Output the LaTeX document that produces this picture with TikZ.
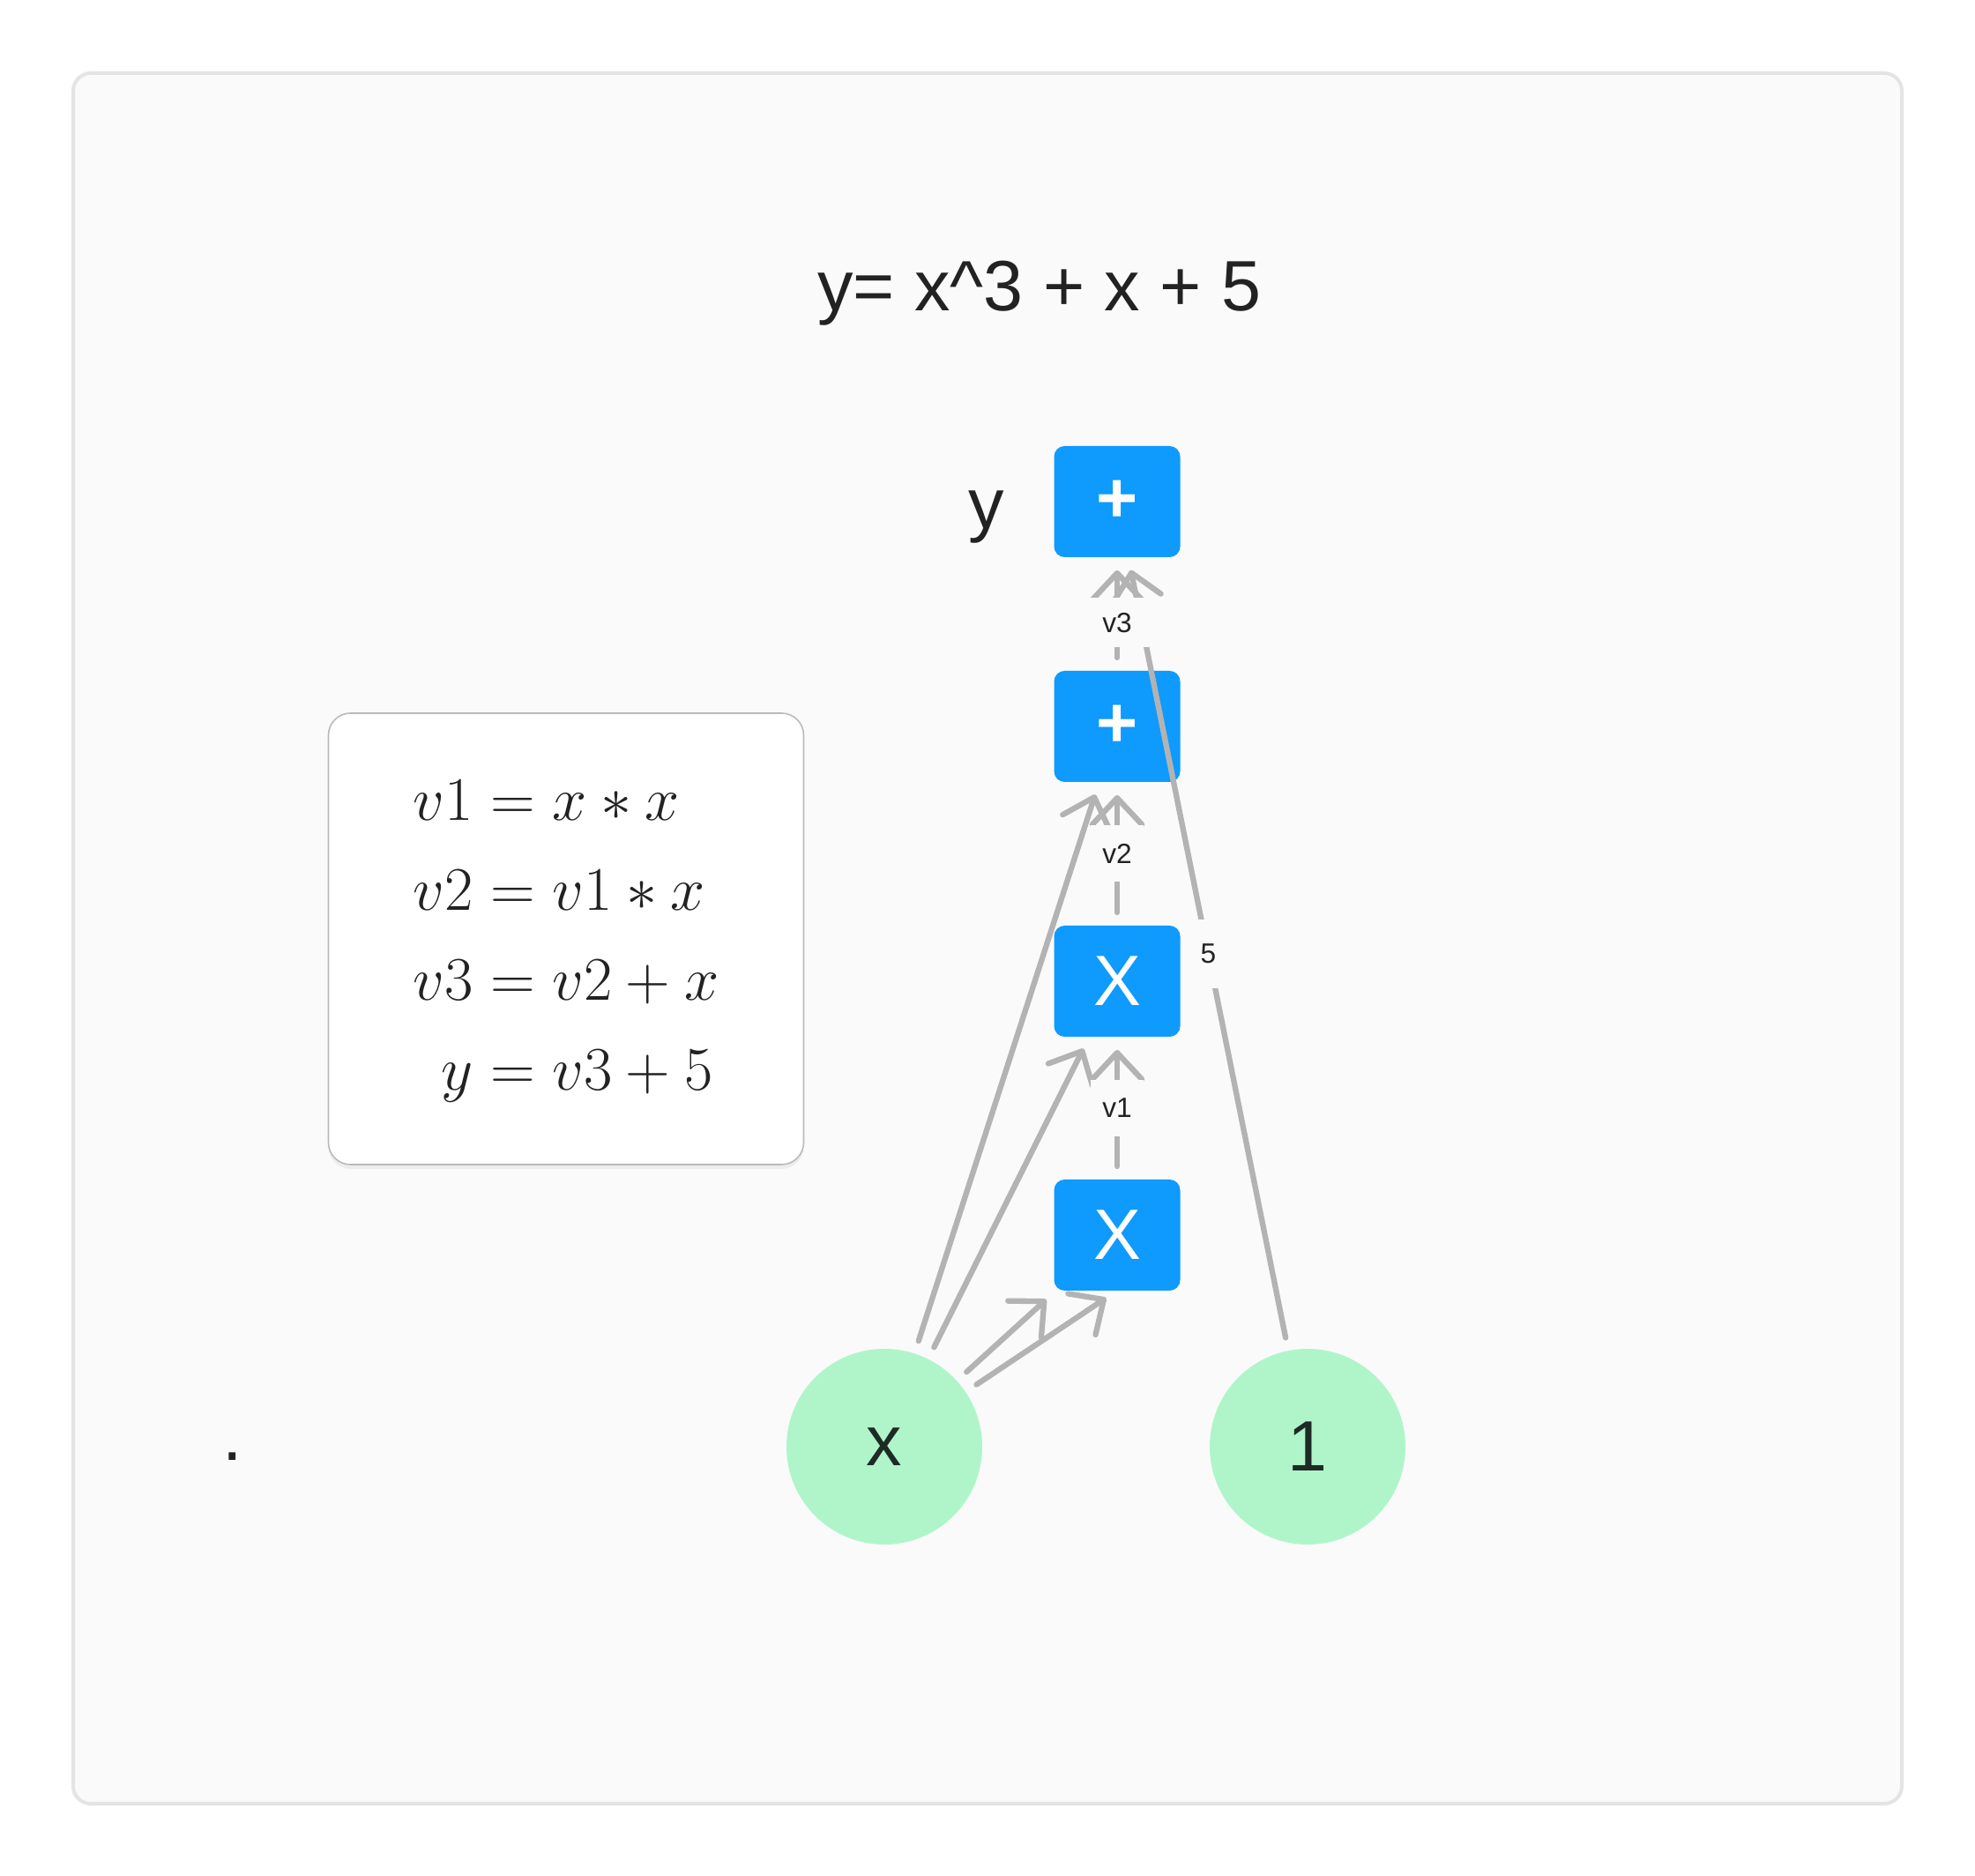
\RequirePackage{fix-cm}
\documentclass[tikz,border=0pt]{standalone}
\usepackage{amsmath}
\usepackage{fontspec}
\usepackage{tikz}
\usetikzlibrary{arrows.meta,shadows}
\newfontfamily\arialfont{Liberation Sans}
\definecolor{framebg}{HTML}{FAFAFA}
\definecolor{frameline}{HTML}{E4E4E4}
\definecolor{opblue}{HTML}{0F9AFE}
\definecolor{leafgreen}{HTML}{B0F5CA}
\definecolor{edgegray}{HTML}{B3B3B3}
\definecolor{inkdark}{HTML}{222222}
\definecolor{leafink}{HTML}{1E2B24}

\begin{document}
\begin{tikzpicture}[
        op/.style={rectangle, fill=opblue, rounded corners=0.12cm, minimum width=1.43cm, minimum height=1.26cm, inner sep=0pt, outer sep=0pt, text=white, font=\arialfont\fontsize{23}{26}\selectfont},
        leaf/.style={circle, fill=leafgreen, minimum size=2.22cm, inner sep=0pt, outer sep=0pt, text=leafink, font=\arialfont\fontsize{23}{26}\selectfont},
        plain/.style={text=inkdark, font=\arialfont\fontsize{23}{26}\selectfont, inner sep=0pt},
        eqbox/.style={rectangle, fill=white, draw=black!27, line width=0.45pt, rounded corners=0.25cm, minimum width=5.39cm, minimum height=5.12cm, drop shadow={shadow xshift=0cm, shadow yshift=-0.05cm, opacity=0.1}, text=inkdark, font=\fontsize{20}{26}\selectfont},
        arrow/.style={-{Straight Barb[length=0.3cm, width=0.56cm, round]}, draw=edgegray, line width=1.8pt, line cap=round, shorten <=0.15cm, shorten >=0.15cm},
        lbl/.style={fill=framebg, text=inkdark, font=\arialfont\fontsize{9}{10}\selectfont, minimum width=0.6cm, minimum height=0.64cm, inner sep=0pt}
    ]
        \useasboundingbox (0,0) rectangle (22.4,21.28);
        % Frame
        \draw[fill=framebg, draw=frameline, line width=0.04cm, rounded corners=0.2cm] (0.83,0.82) rectangle (21.57,20.45);

        % Title
        \node[plain, anchor=base] (title) at (11.79,17.75) {y= x\textasciicircum 3 + x + 5};

        % Equations
        \node[eqbox] (eqs) at (6.42,10.63) {$\begin{aligned}
            v1 &= x*x\\
            v2 &= v1*x\\
            v3 &= v2+x\\
            y &= v3+5
        \end{aligned}$};
        \node[plain, anchor=base] (dot) at (2.64,4.71) {.};

        % Operations
        \node[op] (add2) at (12.67,15.59) {\bfseries +};
        \node[op] (add1) at (12.67,13.04) {\bfseries +};
        \node[op] (mul2) at (12.67,10.15) {X};
        \node[op] (mul1) at (12.67,7.27) {X};
        \node[plain, anchor=base] (ylbl) at (11.19,15.28) {y};

        % Inputs
        \node[leaf] (x) at (10.03,4.87) {x};
        \node[leaf] (one) at (14.83,4.87) {1};

        % Arrows
        \draw[arrow] (x) -- (mul1);
        \draw[arrow] (x.34) -- (mul1.south);
        \draw[arrow] (x) -- (mul2);
        \draw[arrow] (x) -- (add1);
        \draw[arrow] (mul1) -- node[lbl] {v1} (mul2);
        \draw[arrow] (mul2) -- node[lbl] {v2} (add1);
        \draw[arrow] (one) -- node[lbl, minimum height=0.78cm] {5} (add2);
        \draw[arrow] (add1) -- node[lbl, minimum width=0.72cm, minimum height=0.56cm, yshift=-0.1cm] {v3} (add2);
    \end{tikzpicture}
\end{document}
